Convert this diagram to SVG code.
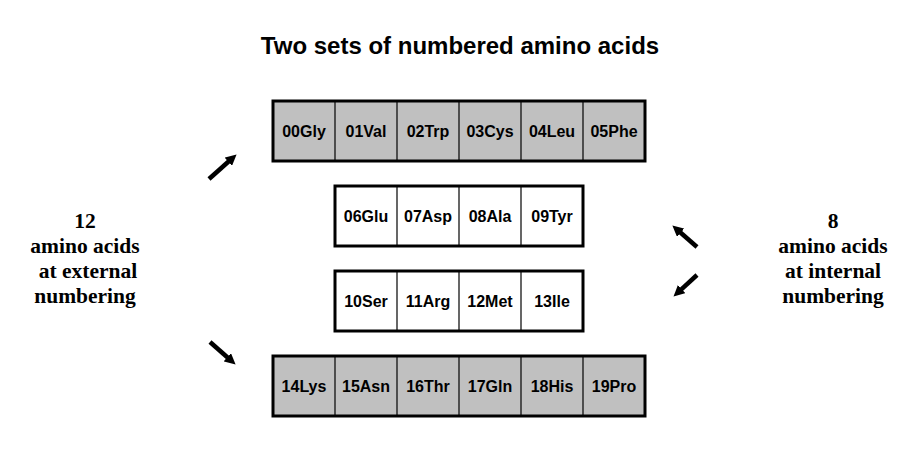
<svg xmlns="http://www.w3.org/2000/svg" width="922" height="461" viewBox="0 0 922 461">
<style>
.box{stroke:#000;stroke-width:3}
.g{fill:#c0c0c0}
.w{fill:#fff}
.div{stroke:#000;stroke-width:1.2}
.cell{font-family:"Liberation Sans",Arial,sans-serif;font-weight:bold;font-size:16px;text-anchor:middle;fill:#000}
.side{font-family:"Liberation Serif","Times New Roman",serif;font-weight:bold;font-size:21.5px;text-anchor:middle;fill:#000}
.title{font-family:"Liberation Sans",Arial,sans-serif;font-weight:bold;font-size:24px;text-anchor:middle;fill:#000}
.arr{stroke:#000;stroke-width:4.5;fill:none;marker-end:url(#ah)}
</style>
<defs>
<marker id="ah" markerUnits="userSpaceOnUse" viewBox="0 0 10 10" markerWidth="11" markerHeight="11" refX="2" refY="5" orient="auto">
<path d="M0,0 L10,5 L0,10 z" fill="#000"/>
</marker>
</defs>
<rect width="922" height="461" fill="#fff"/>
<text class="title" x="460" y="54">Two sets of numbered amino acids</text>

<g id="row1">
<rect class="box g" x="273" y="101" width="372" height="60"/>
<line class="div" x1="335" y1="101" x2="335" y2="161"/>
<line class="div" x1="397" y1="101" x2="397" y2="161"/>
<line class="div" x1="459" y1="101" x2="459" y2="161"/>
<line class="div" x1="521" y1="101" x2="521" y2="161"/>
<line class="div" x1="583" y1="101" x2="583" y2="161"/>
<text class="cell" x="304" y="136.5">00Gly</text>
<text class="cell" x="366" y="136.5">01Val</text>
<text class="cell" x="428" y="136.5">02Trp</text>
<text class="cell" x="490" y="136.5">03Cys</text>
<text class="cell" x="552" y="136.5">04Leu</text>
<text class="cell" x="614" y="136.5">05Phe</text>
</g>

<g id="row2">
<rect class="box w" x="335" y="186" width="248" height="60"/>
<line class="div" x1="397" y1="186" x2="397" y2="246"/>
<line class="div" x1="459" y1="186" x2="459" y2="246"/>
<line class="div" x1="521" y1="186" x2="521" y2="246"/>
<text class="cell" x="366" y="221.5">06Glu</text>
<text class="cell" x="428" y="221.5">07Asp</text>
<text class="cell" x="490" y="221.5">08Ala</text>
<text class="cell" x="552" y="221.5">09Tyr</text>
</g>

<g id="row3">
<rect class="box w" x="335" y="271" width="248" height="60"/>
<line class="div" x1="397" y1="271" x2="397" y2="331"/>
<line class="div" x1="459" y1="271" x2="459" y2="331"/>
<line class="div" x1="521" y1="271" x2="521" y2="331"/>
<text class="cell" x="366" y="306.5">10Ser</text>
<text class="cell" x="428" y="306.5">11Arg</text>
<text class="cell" x="490" y="306.5">12Met</text>
<text class="cell" x="552" y="306.5">13Ile</text>
</g>

<g id="row4">
<rect class="box g" x="273" y="356" width="372" height="60"/>
<line class="div" x1="335" y1="356" x2="335" y2="416"/>
<line class="div" x1="397" y1="356" x2="397" y2="416"/>
<line class="div" x1="459" y1="356" x2="459" y2="416"/>
<line class="div" x1="521" y1="356" x2="521" y2="416"/>
<line class="div" x1="583" y1="356" x2="583" y2="416"/>
<text class="cell" x="304" y="391.5">14Lys</text>
<text class="cell" x="366" y="391.5">15Asn</text>
<text class="cell" x="428" y="391.5">16Thr</text>
<text class="cell" x="490" y="391.5">17Gln</text>
<text class="cell" x="552" y="391.5">18His</text>
<text class="cell" x="614" y="391.5">19Pro</text>
</g>

<g id="label-external">
<text class="side" x="85" y="228">12</text>
<text class="side" x="85" y="253">amino acids</text>
<text class="side" x="88" y="278">at external</text>
<text class="side" x="85" y="303">numbering</text>
</g>

<g id="label-internal">
<text class="side" x="833" y="228">8</text>
<text class="side" x="833" y="253">amino acids</text>
<text class="side" x="833" y="278">at internal</text>
<text class="side" x="833" y="303">numbering</text>
</g>

<g id="connectors">
<line class="arr" x1="209" y1="179" x2="230" y2="160.3"/>
<line class="arr" x1="210" y1="342" x2="229" y2="358.7"/>
<line class="arr" x1="697" y1="247" x2="679" y2="231.3"/>
<line class="arr" x1="697" y1="275" x2="680" y2="290.6"/>
</g>
</svg>
